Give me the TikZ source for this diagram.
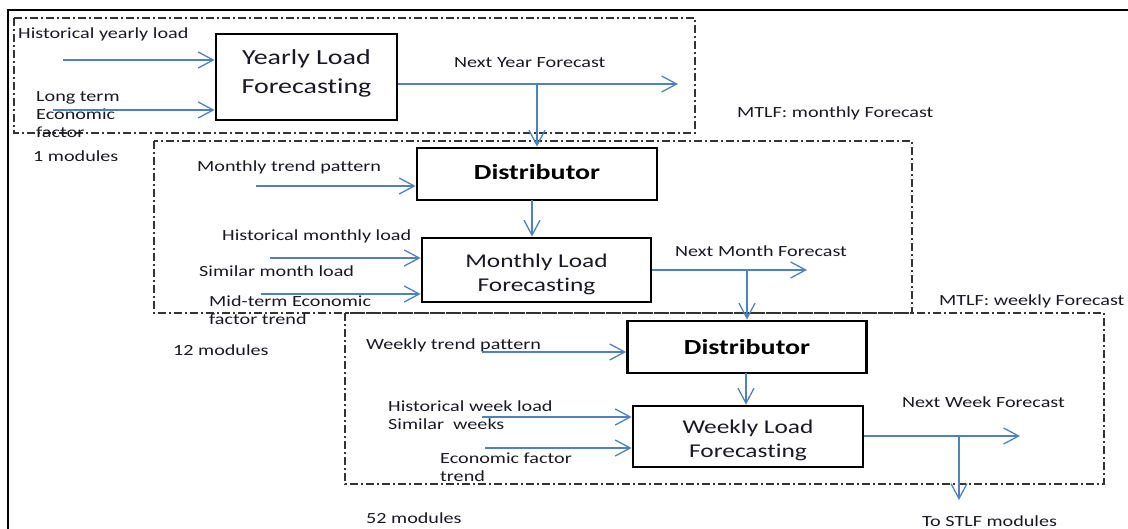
\documentclass[tikz,border=0pt]{standalone}
\usepackage{fontspec}
\setmainfont{Carlito}[FakeStretch=1.3, Ligatures=NoCommon]
\usetikzlibrary{arrows.meta}
\definecolor{arrowblue}{RGB}{79,129,189}
\definecolor{txtcol}{RGB}{25,25,35}
\tikzset{
  txt/.style={font=\fontsize{15.5}{18}\selectfont, inner sep=0pt, text=txtcol, anchor=base west},
  mtxt/.style={txt, anchor=north west, align=left},
  bigtxt/.style={font=\fontsize{21.5}{29}\selectfont, inner sep=0pt, text=txtcol, align=center},
  midtxt/.style={font=\fontsize{19.5}{24}\selectfont, inner sep=0pt, text=txtcol, align=center},
  disttxt/.style={font=\fontsize{21.5}{26}\selectfont\bfseries, inner sep=0pt, text=black},
  procbox/.style={draw=black, line width=2.8pt, inner sep=0pt},
  arr/.style={draw=arrowblue, line width=1.3pt, -{Straight Barb[length=15pt,width=16pt]}},
  region/.style={draw=black!80, line width=1.2pt, dash pattern=on 8pt off 3pt on 2pt off 3pt},
}
\begin{document}
\begin{tikzpicture}[x=1pt,y=-1pt]
\useasboundingbox (0,0) rectangle (1128,529);
% outer frame
\draw[line width=2.6pt] (8,529) -- (8,10) -- (1128,10);
% regions
\draw[region] (14,18) rectangle (695,133);
\draw[region] (154,141) rectangle (912,313);
\draw[region] (345,313) rectangle (1104,484);

% process boxes
\node[procbox, minimum width=181pt, minimum height=86pt] (yl) at (306.5,77) {};
\node[bigtxt] (ylt) at ([yshift=4pt]yl.center) {Yearly Load\\Forecasting};
\node[procbox, minimum width=240pt, minimum height=52pt] (d1) at (537,174) {};
\node[disttxt] (d1t) at ([yshift=2pt]d1.center) {Distributor};
\node[procbox, minimum width=229pt, minimum height=64pt] (ml) at (536.5,270) {};
\node[midtxt] (mlt) at ([yshift=-4pt]ml.center) {Monthly Load\\Forecasting};
\node[procbox, minimum width=239pt, minimum height=52pt] (d2) at (747,347) {};
\node[disttxt] (d2t) at (d2.center) {Distributor};
\node[procbox, minimum width=230pt, minimum height=61pt] (wl) at (748,436.5) {};
\node[midtxt] (wlt) at ([yshift=-3.5pt]wl.center) {Weekly Load\\Forecasting};

% labels
\node[txt] (hyl) at (18,39) {Historical yearly load};
\node[mtxt] (lte) at (36,91) {Long term\\Economic\\factor};
\node[txt] (m1) at (33,162) {1 modules};
\node[txt] (nyf) at (454,68) {Next Year Forecast};
\node[txt] (mtlfm) at (737,118) {MTLF: monthly Forecast};
\node[txt] (mtp) at (197,172) {Monthly trend pattern};
\node[txt] (hml) at (222,241) {Historical monthly load};
\node[txt] (sml) at (199,277) {Similar month load};
\node[mtxt] (mte) at (209,296) {Mid-term Economic\\factor trend};
\node[txt] (nmf) at (675,257) {Next Month Forecast};
\node[txt] (m12) at (173,356) {12 modules};
\node[txt] (mtlfw) at (939,306) {MTLF: weekly Forecast};
\node[txt] (wtp) at (366,350) {Weekly trend pattern};
\node[mtxt] (hwl) at (388,401) {Historical week load\\Similar\ \ weeks};
\node[mtxt] (eft) at (440,453) {Economic factor\\trend};
\node[txt] (m52) at (366,523) {52 modules};
\node[txt] (nwf) at (902,408) {Next Week Forecast};
\node[txt] (stlf) at (922,526) {To STLF modules};

% input arrow tails
\coordinate (i1) at (63,60);
\coordinate (i2) at (53,110);
\coordinate (i3) at (256,186);
\coordinate (i4) at (270,258);
\coordinate (i5) at (261,294);
\coordinate (i6) at (482,352);
\coordinate (i7) at (482,417);
\coordinate (i8) at (485,448);
\draw[arr] (i1) -- (i1 -| yl.west);
\draw[arr] (i2) -- (i2 -| yl.west);
\draw[arr] (i3) -- (i3 -| d1.west);
\draw[arr] (i4) -- (i4 -| ml.west);
\draw[arr] (i5) -- (i5 -| ml.west);
\draw[arr] (i6) -- (i6 -| d2.west);
\draw[arr] (i7) -- (i7 -| wl.west);
\draw[arr] (i8) -- (i8 -| wl.west);

% yearly output
\coordinate (nyend) at (678,84);
\draw[arr] (yl.east |- nyend) -- (nyend);
\draw[arr] (d1.north |- nyend) -- (d1.north);
% distributor 1 -> monthly
\coordinate (dm) at (532,200);
\draw[arr] (dm) -- (dm |- ml.north);
% monthly output
\coordinate (nmend) at (807,270);
\draw[arr] (ml.east |- nmend) -- (nmend);
\draw[arr] (d2.north |- nmend) -- (d2.north);
% distributor 2 -> weekly
\coordinate (dw) at (746,373);
\draw[arr] (dw) -- (dw |- wl.north);
% weekly output
\coordinate (nwend) at (1020,436);
\coordinate (nwj) at (959,436);
\coordinate (stlfin) at (959,500);
\draw[arr] (wl.east |- nwend) -- (nwend);
\draw[arr] (nwj) -- (stlfin);
\end{tikzpicture}
\end{document}
